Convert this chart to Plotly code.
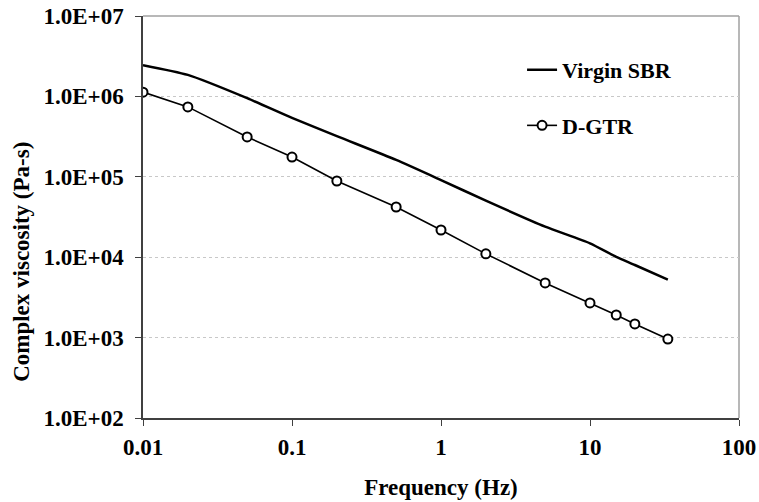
import plotly.graph_objects as go

freq = [0.01, 0.02, 0.05, 0.1, 0.2, 0.5, 1, 2, 5, 10, 15, 20, 33.3]
virgin_sbr = [2.45e6, 1.85e6, 9.5e5, 5.4e5, 3.2e5, 1.62e5, 9.1e4, 5.05e4, 2.4e4, 1.49e4, 1.01e4, 8.0e3, 5.25e3]
d_gtr = [1.13e6, 7.4e5, 3.13e5, 1.76e5, 8.87e4, 4.21e4, 2.18e4, 1.1e4, 4.78e3, 2.7e3, 1.91e3, 1.48e3, 960]

x_tickvals = [0.01, 0.1, 1, 10, 100]
x_ticktext = ["0.01", "0.1", "1", "10", "100"]
y_tickvals = [1e2, 1e3, 1e4, 1e5, 1e6, 1e7]
y_ticktext = ["1.0E+02", "1.0E+03", "1.0E+04", "1.0E+05", "1.0E+06", "1.0E+07"]

FONT = "Liberation Serif, Times New Roman, serif"

fig = go.Figure()
fig.add_trace(go.Scatter(
    x=freq, y=virgin_sbr, mode="lines", name="Virgin SBR",
    line=dict(color="black", width=2.5, shape="spline", smoothing=0.6),
    legendgroup="a",
))
fig.add_trace(go.Scatter(
    x=freq, y=d_gtr, mode="lines+markers", name="D-GTR",
    line=dict(color="black", width=1.6),
    marker=dict(symbol="circle", size=9, color="white", line=dict(color="black", width=2)),
    legendgroup="b",
))

fig.update_layout(
    width=759, height=502,
    margin=dict(l=143, r=20, t=16, b=84, autoexpand=False),
    paper_bgcolor="white", plot_bgcolor="white",
    font=dict(family=FONT, color="black", size=23, weight="bold"),
    showlegend=True,
    legend=dict(
        x=0.636, y=0.918, xanchor="left", yanchor="top",
        bgcolor="rgba(0,0,0,0)", borderwidth=0,
        font=dict(family=FONT, size=22, weight="bold", color="black"),
        tracegroupgap=24, itemwidth=30,
    ),
    xaxis=dict(
        type="log", range=[-2, 2], automargin=False,
        tickvals=x_tickvals, ticktext=x_ticktext,
        ticks="outside", ticklen=6, tickcolor="#404040",
        ticklabelstandoff=2,
        showline=True, linecolor="#404040", linewidth=1.5,
        showgrid=False, zeroline=False,
        title=dict(text="Frequency (Hz)", standoff=20,
                   font=dict(family=FONT, size=23, weight="bold")),
        tickfont=dict(family=FONT, size=23, weight="bold"),
    ),
    yaxis=dict(
        type="log", range=[2, 7], automargin=False,
        tickvals=y_tickvals, ticktext=y_ticktext,
        ticks="outside", ticklen=6, tickcolor="#404040",
        ticklabelstandoff=7,
        showline=True, linecolor="#404040", linewidth=1.5,
        showgrid=True, gridcolor="#c8c8c8", griddash="dot", gridwidth=1,
        zeroline=False,
        tickfont=dict(family=FONT, size=23, weight="bold"),
    ),
    annotations=[
        dict(text="Complex viscosity (Pa-s)", textangle=-90,
             xref="paper", yref="paper", x=-0.205, y=0.388,
             xanchor="center", yanchor="middle", showarrow=False,
             font=dict(family=FONT, size=23, weight="bold", color="black")),
    ],
    shapes=[
        dict(type="line", xref="paper", yref="paper", x0=0, x1=1, y0=1, y1=1,
             line=dict(color="#a0a0a0", width=1.5), layer="below"),
        dict(type="line", xref="paper", yref="paper", x0=1, x1=1, y0=0, y1=1,
             line=dict(color="#a0a0a0", width=1.5), layer="below"),
    ],
)

fig.write_html("out.html", config={"displayModeBar": False},
               post_script=["document.body.style.margin='0px';"])
